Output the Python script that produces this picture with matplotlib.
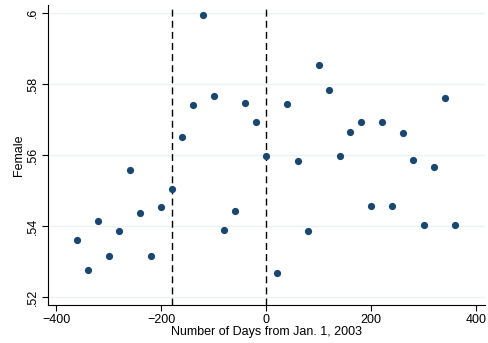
import matplotlib
matplotlib.use("Agg")
import matplotlib.pyplot as plt

days = list(range(-360, 361, 20))
female = [0.5361, 0.5277, 0.5416, 0.5316, 0.5387, 0.5559, 0.5437, 0.5316,
          0.5454, 0.5504, 0.5650, 0.5740, 0.5993, 0.5766, 0.5390, 0.5444,
          0.5746, 0.5692, 0.5597, 0.5270, 0.5744, 0.5585, 0.5387, 0.5854,
          0.5782, 0.5599, 0.5664, 0.5693, 0.5458, 0.5692, 0.5458, 0.5663,
          0.5587, 0.5403, 0.5567, 0.5762, 0.5403]
cutoffs = [-180, 0]
xticks = [-400, -200, 0, 200, 400]
yticks = [0.52, 0.54, 0.56, 0.58, 0.60]
ylabels = [".52", ".54", ".56", ".58", ".6"]

plt.rcParams["font.family"] = ["Liberation Sans", "DejaVu Sans"]

fig = plt.figure(figsize=(4.89, 3.43), dpi=100)
ax = fig.add_axes([0.0975, 0.110, 0.8945, 0.875])

ax.set_xlim(-416, 417)
ax.set_ylim(0.5178, 0.6022)
for y in yticks:
    ax.axhline(y, color="#eaf2f3", lw=1.0, zorder=0)
for c in cutoffs:
    ax.axvline(c, color="black", lw=1.0, ls=(0, (5, 3)), zorder=1)
ax.scatter(days, female, s=27, color="#1a476f", zorder=3, linewidths=0)

ax.set_xticks(xticks)
ax.set_xticklabels(["\u2212400", "\u2212200", "0", "200", "400"])
ax.set_yticks(yticks)
ax.set_yticklabels(ylabels, rotation=90, va="center")
ax.tick_params(labelsize=9, length=4, width=0.8, color="black", pad=2)
ax.spines["top"].set_visible(False)
ax.spines["right"].set_visible(False)
ax.spines["left"].set_linewidth(0.8)
ax.spines["bottom"].set_linewidth(0.8)
ax.set_xlabel("Number of Days from Jan. 1, 2003", fontsize=9, labelpad=0)
ax.set_ylabel("Female", fontsize=9, labelpad=2)

fig.savefig("out.png", dpi=100)
